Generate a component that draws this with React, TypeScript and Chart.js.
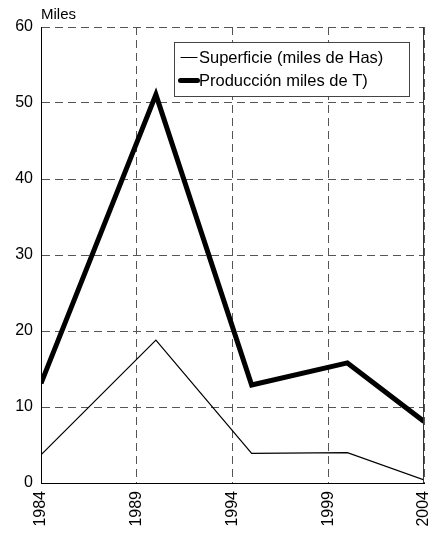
import React, { useEffect, useRef } from "react";
import { Chart, registerables } from "chart.js";

Chart.register(...registerables);

const years = [1984, 1990, 1995, 2000, 2004];
const superficie = [3.7, 18.8, 3.9, 4.0, 0.4];
const produccion = [13.1, 51.1, 12.9, 15.8, 8.1];
const xTicks = [1984, 1989, 1994, 1999, 2004];
const seriesNames = ["Superficie (miles de Has)", "Producción miles de T)"];
const yTitle = "Miles";

const FONT = "'Liberation Sans', Arial, sans-serif";

const extras = {
  id: "extras",
  afterDraw(chart: any) {
    const { ctx, chartArea } = chart;
    ctx.save();
    ctx.strokeStyle = "#333";
    ctx.lineWidth = 1;
    ctx.setLineDash([]);
    ctx.beginPath();
    ctx.moveTo(chartArea.right - 0.5, chartArea.top);
    ctx.lineTo(chartArea.right - 0.5, chartArea.bottom);
    ctx.stroke();
    ctx.fillStyle = "#000";
    ctx.font = `15px ${FONT}`;
    ctx.textAlign = "left";
    ctx.textBaseline = "alphabetic";
    ctx.fillText(yTitle, chartArea.left, 18.5);
    const bx = chartArea.left + 133.5;
    const by = chartArea.top + 15.5;
    const bw = 235;
    const bh = 54;
    ctx.fillStyle = "#fff";
    ctx.fillRect(bx, by, bw, bh);
    ctx.strokeStyle = "#444";
    ctx.lineWidth = 1;
    ctx.strokeRect(bx, by, bw, bh);
    const widths = [1, 5];
    const rows = [by + 15, by + 38];
    ctx.font = `16.5px ${FONT}`;
    ctx.textBaseline = "middle";
    seriesNames.forEach((name, i) => {
      ctx.strokeStyle = "#000";
      ctx.lineWidth = widths[i];
      ctx.lineCap = i === 1 ? "round" : "butt";
      ctx.beginPath();
      ctx.moveTo(bx + 6, rows[i]);
      ctx.lineTo(bx + 23, rows[i]);
      ctx.stroke();
      ctx.fillStyle = "#000";
      ctx.fillText(name, bx + 24.5, rows[i] + 1);
    });
    ctx.restore();
  },
};

export default function App() {
  const ref = useRef<HTMLCanvasElement>(null);
  useEffect(() => {
    if (!ref.current) return;
    const chart = new Chart(ref.current, {
      type: "line",
      data: {
        datasets: [
          {
            label: seriesNames[0],
            data: years.map((x, i) => ({ x, y: superficie[i] })),
            borderColor: "#000",
            borderWidth: 1.2,
            pointRadius: 0,
            tension: 0,
          },
          {
            label: seriesNames[1],
            data: years.map((x, i) => ({ x, y: produccion[i] })),
            borderColor: "#000",
            borderWidth: 5,
            pointRadius: 0,
            tension: 0,
          },
        ],
      },
      options: {
        responsive: false,
        animation: false,
        devicePixelRatio: 1,
        layout: { padding: { top: 27, right: 5, left: 0, bottom: 0 } },
        plugins: { legend: { display: false }, tooltip: { enabled: false } },
        scales: {
          x: {
            type: "linear",
            min: 1984,
            max: 2004,
            afterBuildTicks: (s: any) => {
              s.ticks = xTicks.map((v) => ({ value: v }));
            },
            afterFit: (s: any) => {
              s.height = 53;
              s.paddingLeft = 0;
              s.paddingRight = 0;
            },
            ticks: {
              minRotation: 90,
              maxRotation: 90,
              autoSkip: false,
              padding: 8,
              color: "#000",
              font: { family: FONT, size: 16 },
              callback: (v: any) => String(v),
            },
            grid: { color: "#555", drawTicks: false },
            border: { display: true, color: "#000", width: 1, dash: [8, 5] },
          },
          y: {
            min: 0,
            max: 60,
            afterFit: (s: any) => {
              s.width = 41;
            },
            ticks: {
              stepSize: 10,
              padding: 8,
              color: "#000",
              font: { family: FONT, size: 16 },
            },
            grid: { color: "#555", drawTicks: false },
            border: { display: true, color: "#000", width: 1, dash: [8, 5] },
          },
        },
      },
      plugins: [extras],
    } as any);
    return () => chart.destroy();
  }, []);
  return (
    <div style={{ position: "absolute", left: 0, top: 0, width: 429, height: 536 }}>
      <canvas ref={ref} width={429} height={536} style={{ display: "block" }} />
    </div>
  );
}
